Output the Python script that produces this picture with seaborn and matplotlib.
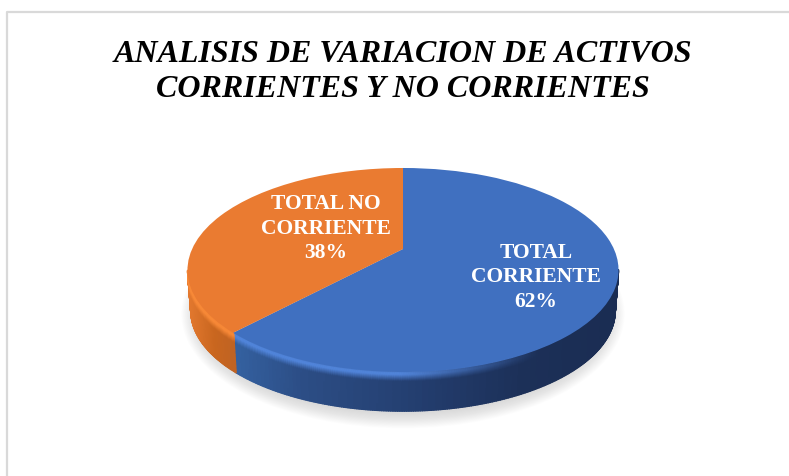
import numpy as np
import matplotlib
matplotlib.use("Agg")
import matplotlib.pyplot as plt
import matplotlib.transforms as mtransforms
from matplotlib.collections import PolyCollection
from matplotlib.patches import Ellipse
import seaborn as sns

title = "ANALISIS DE VARIACION DE ACTIVOS\nCORRIENTES Y NO CORRIENTES"
categories = ["TOTAL\nCORRIENTE", "TOTAL NO\nCORRIENTE"]
values = [62, 38]

sns.set_theme(style="white")
plt.rcParams["font.family"] = ["Liberation Serif", "DejaVu Serif"]

top_colors = sns.color_palette(["#4070c0", "#ea7b31"])
side_ramps = [["#34609f", "#2c4d85", "#233d6e", "#1c3058", "#1a2c52"],
              ["#e57a30", "#c9661f", "#bd6224"]]
side_x = [[238, 300, 420, 520, 620], [187, 215, 240]]
rim_colors = ["#5286dc", "#f98a38"]
label_pos = [(536, 251), (326, 202)]


# perspective of the disc, unit pie -> pixels
def warp(u, v, dy=0.0, scale=1.0):
    k = 0.206
    d = 1 + k * v
    return 403 + scale * 210.9 * u / d, 249 + dy - scale * 97.7 * v / d


class PieWarp(mtransforms.Transform):
    input_dims = 2
    output_dims = 2
    has_inverse = False

    def transform_non_affine(self, values):
        xy = np.asarray(values)
        x, y = warp(xy[:, 0], xy[:, 1])
        return np.column_stack([x, y])


fig = plt.figure(figsize=(7.89, 4.76), dpi=100)
ax = fig.add_axes([0, 0, 1, 1])

wedges, _ = ax.pie(values, colors=top_colors, startangle=90, counterclock=False,
                   radius=1, wedgeprops={"linewidth": 0, "zorder": 5})
warp_tf = PieWarp() + ax.transData
for w in wedges:
    w.set_transform(warp_tf)

ax.set_aspect("auto")
ax.set_xlim(0, 789)
ax.set_ylim(476, 0)
ax.axis("off")

# soft shadow
for i in range(14):
    ax.add_patch(Ellipse((403, 314), 2 * (206 + i * 1.2), 2 * (100 + i * 1.1),
                         color="#808080", alpha=0.02, lw=0, zorder=1))

# side wall of the disc, coloured along x and lighter near the rim
depth = 41
bands = np.concatenate([np.arange(0, 10, 1.0), np.arange(10, depth + 1, 4.0)])
if bands[-1] != depth:
    bands = np.append(bands, depth)

for w, xs, ramp, rim in zip(wedges, side_x, side_ramps, rim_colors):
    angles = np.radians(np.arange(w.theta1, w.theta2 + 0.5, 0.5))
    n_ramp = 64
    ramp_pal = np.array(sns.blend_palette(ramp, n_colors=n_ramp))
    rim_rgb = np.array(matplotlib.colors.to_rgb(rim))
    pos = np.linspace(0, 1, len(xs))
    polys, cols = [], []
    for a0, a1 in zip(angles[:-1], angles[1:]):
        # back of the wall is hidden by the top face
        if np.sin(a0) > -0.2 or np.sin(a1) > -0.2:
            continue
        for d0, d1 in zip(bands[:-1], bands[1:]):
            s0, s1 = 1 - 0.015 * d0 / depth, 1 - 0.015 * d1 / depth
            p = [warp(np.cos(a0), np.sin(a0), d0, s0), warp(np.cos(a1), np.sin(a1), d0, s0),
                 warp(np.cos(a1), np.sin(a1), d1, s1), warp(np.cos(a0), np.sin(a0), d1, s1)]
            polys.append(p)
            xm = (p[0][0] + p[1][0]) / 2
            base = ramp_pal[int(np.interp(xm, xs, pos) * (n_ramp - 1))]
            dm = (d0 + d1) / 2
            glow = np.interp(dm, [0, 3, 10], [0.9, 1, 0]) * np.interp(xm, [400, 540], [1, 0])
            cols.append(base * (1 - glow) + rim_rgb * glow)
    ax.add_collection(PolyCollection(polys, facecolors=cols, edgecolors=cols,
                                     linewidths=0.9, zorder=3))

# frame of the chart area
ax.plot([7, 7, 789], [476, 12, 12], color="#d9d9d9", lw=1.6, zorder=2, clip_on=False)

ax.text(403, 72, title, ha="center", va="center", fontsize=23, fontweight="bold",
        fontstyle="italic", color="black", linespacing=1.28, zorder=6)

for cat, val, (x, y) in zip(categories, values, label_pos):
    ax.text(x, y + 26.5, f"{cat}\n{val}%", ha="center", va="center", fontsize=15.5,
            fontweight="bold", color="white", linespacing=1.32, zorder=6)

fig.savefig("out.png", dpi=100)
